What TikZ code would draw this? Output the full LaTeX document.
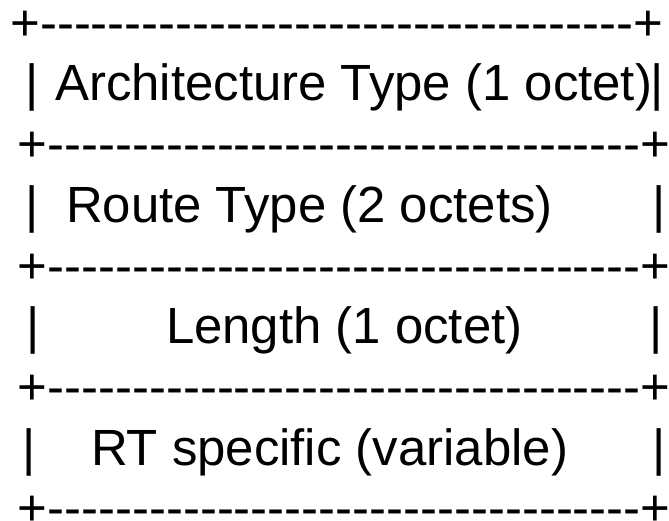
\documentclass[tikz,border=0pt]{standalone}
\usepackage{fontspec}
\newfontfamily\artfont{Liberation Sans}[Ligatures=TeXOff]
\begin{document}
\begin{tikzpicture}[x=1pt,y=-1pt,
  txt/.style={inner sep=0pt, outer sep=0pt, anchor=base west,
    font=\artfont\fontsize{50.9}{60}\selectfont}]
\useasboundingbox (0,0) rectangle (669,521);
\def\artrule{+-----------------------------------+}
\node[txt] (r0) at (10.4,40.3) {\artrule};
\node[txt] (l1) at (25.5,101.0) {|};
\node[txt] (t1) at (55.2,101.0) {Architecture Type (1 octet)};
\node[txt] (p1) at (650.5,101.0) {|};
\node[txt] (r2) at (17.8,161.7) {\artrule};
\node[txt] (l3) at (25.0,222.4) {|};
\node[txt] (t3) at (66.0,222.4) {Route Type (2 octets)};
\node[txt] (p3) at (652.0,222.4) {|};
\node[txt] (r4) at (17.8,283.1) {\artrule};
\node[txt] (l5) at (26.0,343.8) {|};
\node[txt] (t5) at (166.0,343.8) {Length (1 octet)};
\node[txt] (p5) at (649.5,343.8) {|};
\node[txt] (r6) at (17.8,404.5) {\artrule};
\node[txt] (l7) at (22.0,465.2) {|};
\node[txt] (t7) at (91.0,465.2) {RT specific (variable)};
\node[txt] (p7) at (652.5,465.2) {|};
\node[txt] (r8) at (17.8,525.9) {\artrule};
\end{tikzpicture}
\end{document}
